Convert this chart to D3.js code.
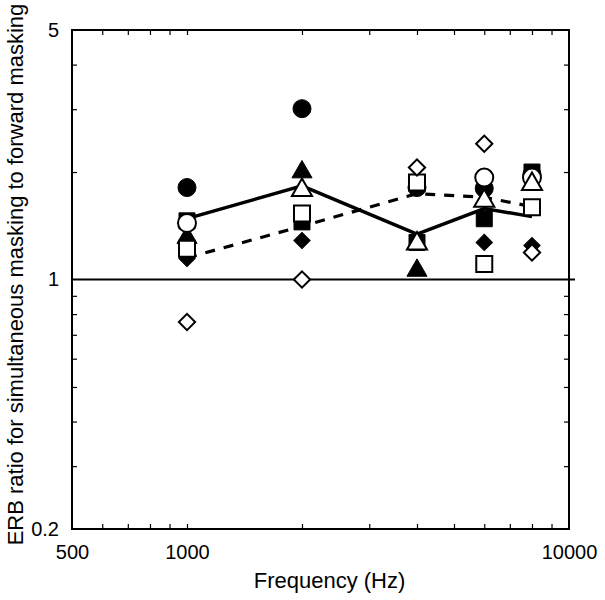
<!DOCTYPE html>
<html><head><meta charset="utf-8">
<script src="https://cdn.jsdelivr.net/npm/d3@7"></script>
<style>body{margin:0;background:#fff}svg{display:block}text{font-family:"Liberation Sans",Arial,sans-serif;fill:#000}</style>
</head><body><svg id="c" width="605" height="600"></svg>
<script>
const freqs = [1000, 2000, 4000, 6000, 8000];
const filledCircle   = [1.81, 3.01, 1.81, 1.80, 1.97];
const openCircle     = [1.44, null, null, 1.93, 1.93];
const filledSquare   = [1.46, 1.45, 1.27, 1.48, 2.00];
const openSquare     = [1.22, 1.53, 1.87, 1.106, 1.594];
const filledTriangle = [1.31, 2.00, 1.06, null, null];
const openTriangle   = [null, 1.78, 1.26, 1.66, 1.85];
const filledDiamond  = [1.145, 1.286, null, 1.27, 1.245];
const openDiamond    = [0.76, 1.00, 2.06, 2.40, 1.19];
const meanSolid  = [1.48, 1.83, 1.34, 1.58, 1.50];
const meanDashed = [1.15, 1.41, 1.74, 1.70, 1.60];
const xTickLabels = [500, 1000, 10000];
const yTickLabels = [0.2, 1, 5];
const xMinor = [600,700,800,900,1000,2000,3000,4000,5000,6000,7000,8000,9000];
const yMinor = [0.3,0.4,0.5,0.6,0.7,0.8,0.9,2,3,4];

const L=72,R=569,T=30,B=529;
const svg=d3.select("#c");
const x=d3.scaleLog().domain([500,10000]).range([L,R]);
const y=d3.scaleLog().domain([0.2,5]).range([B,T]);

const tk=5;
const styleTicks=g=>{g.select(".domain").remove();g.selectAll("line").attr("stroke","#000").attr("stroke-width",1.2);};
svg.append("g").attr("transform",`translate(0,${B})`)
  .call(d3.axisBottom(x).tickValues(xMinor).tickSize(-tk).tickFormat("")).call(styleTicks);
svg.append("g").attr("transform",`translate(0,${T})`)
  .call(d3.axisTop(x).tickValues(xMinor).tickSize(-tk).tickFormat("")).call(styleTicks);
svg.append("g").attr("transform",`translate(${L},0)`)
  .call(d3.axisLeft(y).tickValues(yMinor).tickSize(-tk).tickFormat("")).call(styleTicks);
svg.append("g").attr("transform",`translate(${R},0)`)
  .call(d3.axisRight(y).tickValues(yMinor).tickSize(-tk).tickFormat("")).call(styleTicks);

svg.append("g").attr("transform",`translate(0,${B})`)
  .call(d3.axisBottom(x).tickValues(xTickLabels).tickSize(0).tickPadding(16).tickFormat(d3.format("d")))
  .call(g=>{g.select(".domain").remove();g.selectAll("text").attr("font-size",20).attr("font-family","Liberation Sans, Arial, sans-serif");});
svg.append("g").attr("transform",`translate(${L},0)`)
  .call(d3.axisLeft(y).tickValues(yTickLabels).tickSize(0).tickPadding(13).tickFormat(d=>String(d)))
  .call(g=>{g.select(".domain").remove();g.selectAll("text").attr("font-size",20).attr("font-family","Liberation Sans, Arial, sans-serif");});

svg.append("line").attr("x1",L).attr("x2",R+6).attr("y1",y(1)).attr("y2",y(1)).attr("stroke","#000").attr("stroke-width",2);

svg.append("rect").attr("x",L).attr("y",T).attr("width",R-L).attr("height",B-T)
  .attr("fill","none").attr("stroke","#000").attr("stroke-width",2);

svg.append("text").attr("x",(L+R)/2+9).attr("y",588).attr("text-anchor","middle").attr("font-size",22).text("Frequency (Hz)");
svg.append("text").attr("transform",`translate(23,${(T+B)/2-5}) rotate(-90)`).attr("text-anchor","middle").attr("font-size",22)
  .text("ERB ratio for simultaneous masking to forward masking");

const line=d3.line().x((d,i)=>x(freqs[i])).y(d=>y(d));
svg.append("path").attr("d",line(meanDashed)).attr("fill","none").attr("stroke","#000").attr("stroke-width",3.2).attr("stroke-dasharray","10,9");
svg.append("path").attr("d",line(meanSolid)).attr("fill","none").attr("stroke","#000").attr("stroke-width",3.4);

const series=[
  {v:filledDiamond,t:"diamond",f:true},
  {v:filledCircle,t:"circle",f:true},
  {v:filledSquare,t:"square",f:true},
  {v:filledTriangle,t:"triangle",f:true},
  {v:openSquare,t:"square",f:false},
  {v:openCircle,t:"circle",f:false},
  {v:openTriangle,t:"triangle",f:false},
  {v:openDiamond,t:"diamond",f:false}
];
const sym={
  circle:d3.symbol().type(d3.symbolCircle).size(Math.PI*81)(),
  square:d3.symbol().type(d3.symbolSquare).size(16*16)(),
  triangle:d3.symbol().type(d3.symbolTriangle).size(175)(),
  diamond:d3.symbol().type(d3.symbolSquare).size(11.5*11.5)()
};
series.forEach(s=>{
  svg.append("g").selectAll("path").data(s.v.map((v,i)=>({v,f:freqs[i]})).filter(d=>d.v!=null))
    .join("path").attr("d",sym[s.t])
    .attr("transform",d=>`translate(${x(d.f)},${y(d.v)})`+(s.t==="diamond"?" rotate(45)":""))
    .attr("fill",s.f?"#000":"#fff").attr("stroke","#000").attr("stroke-width",s.f?1:2);
});
</script></body></html>
